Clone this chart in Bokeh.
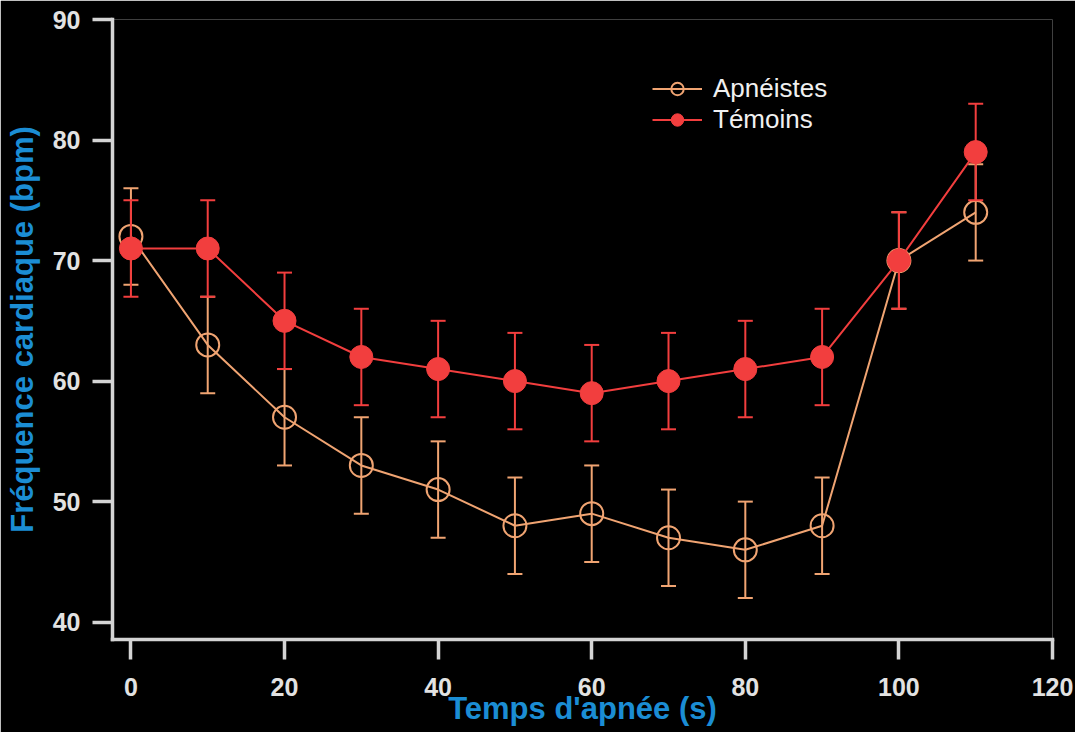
from bokeh.plotting import figure
from bokeh.models import ColumnDataSource, FixedTicker, Legend, LegendItem, Range1d
from bokeh.embed import file_html
from bokeh.resources import INLINE

# ---- data ----
time_s = [0, 10, 20, 30, 40, 50, 60, 70, 80, 90, 100, 110]
apneistes = [72, 63, 57, 53, 51, 48, 49, 47, 46, 48, 70, 74]
apneistes_err = [4, 4, 4, 4, 4, 4, 4, 4, 4, 4, 4, 4]
temoins = [71, 71, 65, 62, 61, 60, 59, 60, 61, 62, 70, 79]
temoins_err = [4, 4, 4, 4, 4, 4, 4, 4, 4, 4, 4, 4]
x_ticks = [0, 20, 40, 60, 80, 100, 120]
y_ticks = [40, 50, 60, 70, 80, 90]
series_names = ["Apnéistes", "Témoins"]
x_title = "Temps d'apnée (s)"
y_title = "Fréquence cardiaque (bpm)"

TAN = "#F0A472"
RED = "#F23E3E"
AXIS = "#d4d4d4"
TICKTXT = "#e2e2e2"
BLUE = "#1B8DD4"
FONT = "Liberation Sans"

src_a = ColumnDataSource(dict(
    t=time_s, y=apneistes,
    lo=[v - e for v, e in zip(apneistes, apneistes_err)],
    hi=[v + e for v, e in zip(apneistes, apneistes_err)],
))
src_t = ColumnDataSource(dict(
    t=time_s, y=temoins,
    lo=[v - e for v, e in zip(temoins, temoins_err)],
    hi=[v + e for v, e in zip(temoins, temoins_err)],
))

p = figure(width=1075, height=732,
           x_range=Range1d(-2.4, 120), y_range=Range1d(38.56, 90),
           output_backend="svg", toolbar_location=None,
           min_border_left=112, min_border_right=23,
           min_border_top=19, min_border_bottom=93,
           background_fill_color="black", border_fill_color="black")
p.outline_line_color = None
p.outline_line_alpha = 0
p.outline_line_width = 0
p.grid.visible = False

for ax in (p.xaxis[0], p.yaxis[0]):
    ax.axis_line_color = AXIS
    ax.axis_line_width = 3.5
    ax.axis_line_cap = "square"
    ax.major_tick_line_color = AXIS
    ax.major_tick_line_width = 3.5
    ax.major_tick_out = 20
    ax.major_tick_in = 0
    ax.minor_tick_line_color = None
    ax.major_label_text_font = FONT
    ax.major_label_text_font_size = "25px"
    ax.major_label_text_font_style = "bold"
    ax.major_label_text_color = TICKTXT
    ax.axis_label_text_font = FONT
    ax.axis_label_text_font_size = "31px"
    ax.axis_label_text_font_style = "bold"
    ax.axis_label_text_color = BLUE
p.xaxis[0].ticker = FixedTicker(ticks=x_ticks)
p.yaxis[0].ticker = FixedTicker(ticks=y_ticks)
p.xaxis[0].major_label_standoff = 18
p.yaxis[0].major_label_standoff = 12
p.xaxis[0].axis_label = x_title
p.yaxis[0].axis_label = y_title
p.xaxis[0].axis_label_standoff = -8
p.yaxis[0].axis_label_standoff = 10

# Apnéistes (open circles)
p.segment(x0="t", y0="lo", x1="t", y1="hi", source=src_a, line_color=TAN, line_width=2)
p.scatter(x="t", y="lo", source=src_a, marker="dash", size=15, line_color=TAN, line_width=2)
p.scatter(x="t", y="hi", source=src_a, marker="dash", size=15, line_color=TAN, line_width=2)
a_line = p.line(x="t", y="y", source=src_a, line_color=TAN, line_width=2)
a_pts = p.scatter(x="t", y="y", source=src_a, marker="circle", size=23,
                  line_color=TAN, line_width=2, fill_color=None)

# Témoins (filled circles)
p.segment(x0="t", y0="lo", x1="t", y1="hi", source=src_t, line_color=RED, line_width=2)
p.scatter(x="t", y="lo", source=src_t, marker="dash", size=15, line_color=RED, line_width=2)
p.scatter(x="t", y="hi", source=src_t, marker="dash", size=15, line_color=RED, line_width=2)
t_line = p.line(x="t", y="y", source=src_t, line_color=RED, line_width=2)
t_pts = p.scatter(x="t", y="y", source=src_t, marker="circle", size=23,
                  line_color=RED, line_width=1, fill_color=RED)

legend = Legend(items=[LegendItem(label=series_names[0], renderers=[a_line, a_pts]),
                       LegendItem(label=series_names[1], renderers=[t_line, t_pts])],
                location=(540, 504), padding=0, margin=0, spacing=0,
                glyph_width=50, glyph_height=31, label_standoff=11,
                label_text_font=FONT, label_text_font_size="26px",
                label_text_color="#f0f0f0",
                background_fill_alpha=0, border_line_alpha=0)
p.add_layout(legend)

open("out.html", "w").write(file_html(p, INLINE))
